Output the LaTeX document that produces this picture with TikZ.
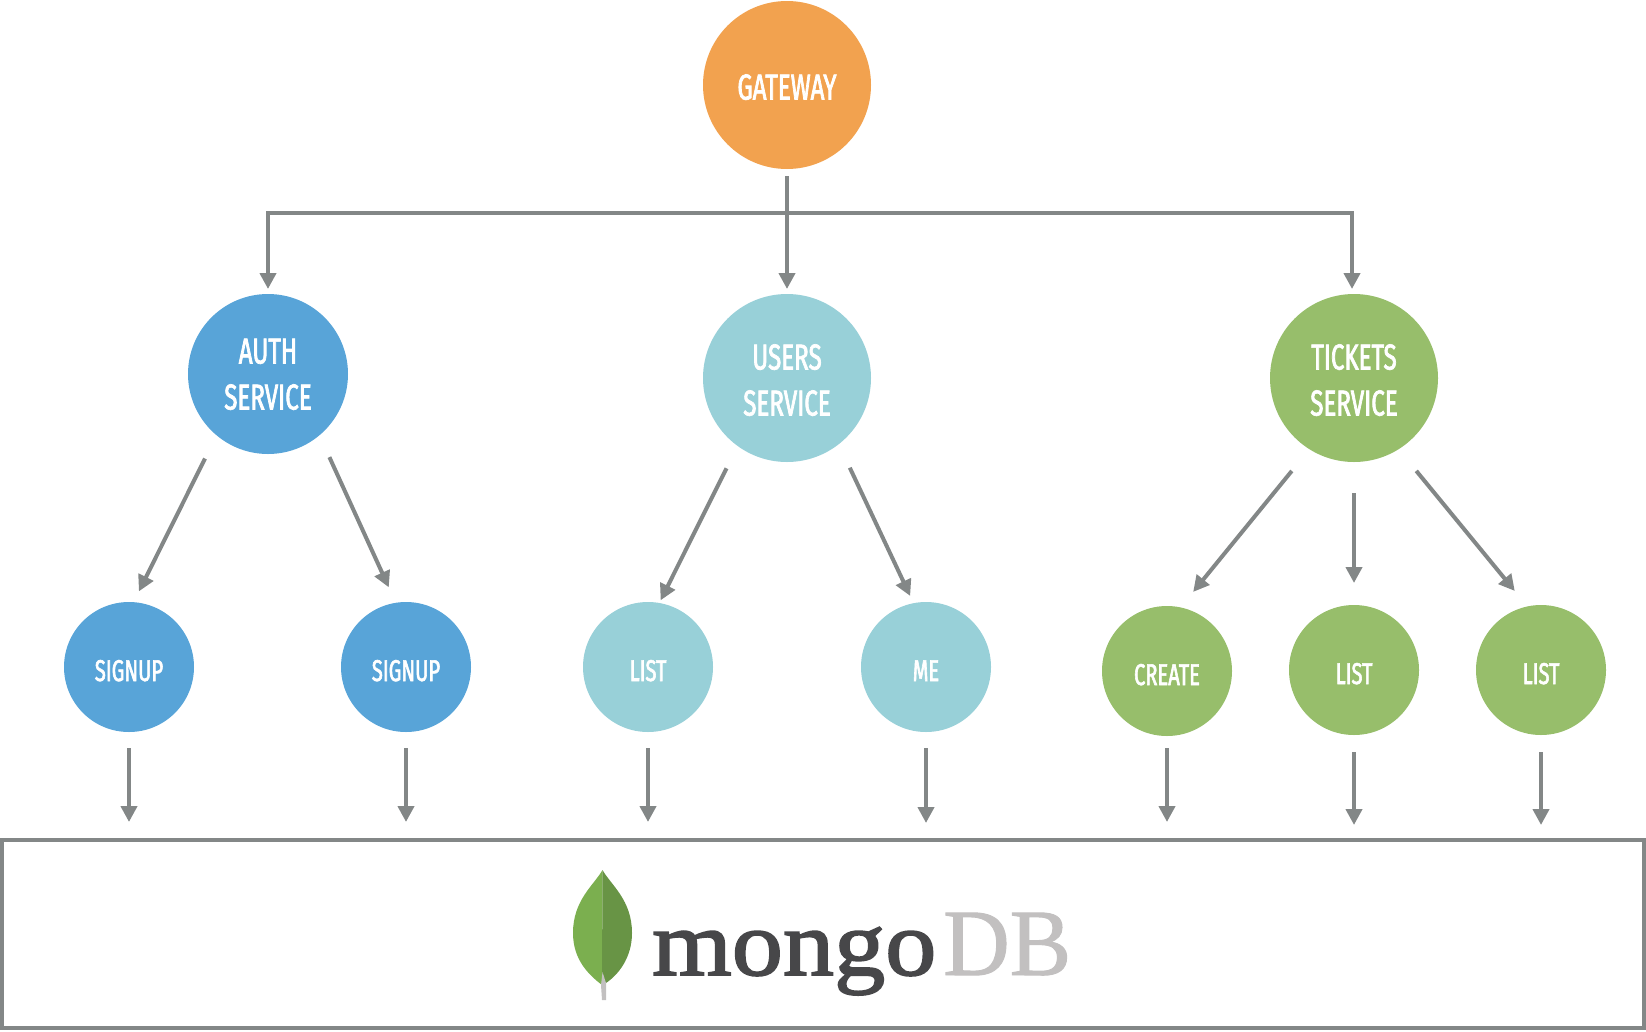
\documentclass[tikz,border=0pt]{standalone}
\usepackage{fontspec}
\usetikzlibrary{positioning, arrows.meta}
\newfontfamily\labelfont[FakeStretch=0.67, FakeBold=2]{Fira Sans}
\newfontfamily\mongofont[FakeStretch=1.1, FakeBold=2]{Liberation Serif}
\newfontfamily\dbfont[FakeStretch=0.97, FakeBold=1]{Liberation Serif}
\definecolor{gatewayorange}{HTML}{F2A24F}
\definecolor{authblue}{HTML}{58A4D8}
\definecolor{usersteal}{HTML}{98D0D8}
\definecolor{ticketsgreen}{HTML}{97BE6B}
\definecolor{linegray}{HTML}{838787}
\definecolor{mongodark}{HTML}{474749}
\definecolor{dbgray}{HTML}{C2C0C0}
\definecolor{leaflight}{HTML}{7BAF4F}
\definecolor{leafdark}{HTML}{689445}

\begin{document}
\begin{tikzpicture}[x=1pt, y=-1pt,
    bigservice/.style={circle,
      fill=#1,
      minimum size=168pt,
      inner sep=0pt,
      outer sep=0pt,
      align=center,
      text=white,
      text height=75pt,
      text depth=0pt,
      font={\labelfont\fontsize{36}{46}\selectfont}},
    endpoint/.style={circle,
      fill=#1,
      minimum size=130pt,
      inner sep=0pt,
      outer sep=0pt,
      text=white,
      text height=28pt,
      text depth=0pt,
      font={\labelfont\fontsize{30}{36}\selectfont}},
    flow/.style={draw=linegray,
      line width=4pt,
      -{Triangle[length=16pt,width=16pt]}}]
  \useasboundingbox (0,0) rectangle (1646,1031);

  % SERVICES

  \node[bigservice=gatewayorange, text height=29pt] (gateway) at (787,85) {GATEWAY};
  \node[bigservice=usersteal, below=125pt of gateway] (users) {USERS\\SERVICE};
  \node[bigservice=authblue, minimum size=160pt, text height=71pt, left=355pt of users, yshift=4pt] (auth) {AUTH\\SERVICE};
  \node[bigservice=ticketsgreen, right=399pt of users] (tickets) {TICKETS\\SERVICE};

  % ENDPOINTS

  \node[endpoint=authblue, below=148pt of auth, xshift=-139pt] (signupa) {SIGNUP};
  \node[endpoint=authblue, right=147pt of signupa] (signupb) {SIGNUP};
  \node[endpoint=usersteal, right=112pt of signupb] (listusers) {LIST};
  \node[endpoint=usersteal, right=148pt of listusers] (me) {ME};
  \node[endpoint=ticketsgreen, below=143pt of tickets] (listb) {LIST};
  \node[endpoint=ticketsgreen, left=57pt of listb, yshift=-1pt] (create) {CREATE};
  \node[endpoint=ticketsgreen, right=57pt of listb] (listc) {LIST};

  % DATABASE

  \node[draw=linegray, line width=4pt, minimum width=1642pt, minimum height=188pt,
    inner sep=0pt, outer sep=0pt] (db) at (823,934) {};
  \fill[leaflight] (602.5,870) .. controls (594,885) and (573,900) .. (573,933)
    .. controls (573,960) and (589,975) .. (602,985) -- cycle;
  \fill[leafdark] (602.5,870) .. controls (611,885) and (632,900) .. (632,933)
    .. controls (632,958) and (618,975) .. (606,983) -- (602,985) -- cycle;
  \fill[dbgray] (602.5,972) -- (606,983) -- (606,1000) -- (602,1000) -- (601,985) -- cycle;
  \node[anchor=base west, inner sep=0pt, text=mongodark,
    font={\mongofont\fontsize{93}{93}\selectfont}] (mongoname) at (652,975) {mongo};
  \node[anchor=base west, inner sep=0pt, text=dbgray,
    font={\dbfont\fontsize{95}{95}\selectfont}] (dbname) at (943,975) {DB};

  % CONNECTORS

  \coordinate (trunk) at (gateway |- 0,213);
  \draw[flow, shorten <=7pt, shorten >=5pt] (gateway.south) -- (users.north);
  \draw[flow, shorten >=5pt] (trunk) -| (auth.north);
  \draw[flow, shorten >=5pt] (trunk) -| ([xshift=-2pt]tickets.north);

  \draw[flow, shorten <=26pt, shorten >=12pt] (auth.-130) -- (signupa.86);
  \draw[flow, shorten <=24pt, shorten >=17pt] (auth.-50) -- (signupb.99);
  \draw[flow, shorten <=25pt, shorten >=3pt] (users.-126) -- (listusers.80);
  \draw[flow, shorten <=26pt, shorten >=8pt] (users.-52) -- (me.101);
  \draw[flow, shorten <=28pt, shorten >=20pt] (tickets.-122) -- (create.78);
  \draw[flow, shorten <=31pt, shorten >=22pt] (tickets.south) -- (listb.north);
  \draw[flow, shorten <=28pt, shorten >=20pt] (tickets.-58) -- (listc.102);

  \draw[flow, shorten <=16pt, shorten >=18pt] (signupa.south) -- (signupa.south |- db.north);
  \draw[flow, shorten <=16pt, shorten >=18pt] (signupb.south) -- (signupb.south |- db.north);
  \draw[flow, shorten <=16pt, shorten >=18pt] (listusers.south) -- (listusers.south |- db.north);
  \draw[flow, shorten <=16pt, shorten >=17pt] (me.south) -- (me.south |- db.north);
  \draw[flow, shorten <=12pt, shorten >=18pt] (create.south) -- (create.south |- db.north);
  \draw[flow, shorten <=17pt, shorten >=15pt] (listb.south) -- (listb.south |- db.north);
  \draw[flow, shorten <=17pt, shorten >=15pt] (listc.south) -- (listc.south |- db.north);

\end{tikzpicture}
\end{document}
